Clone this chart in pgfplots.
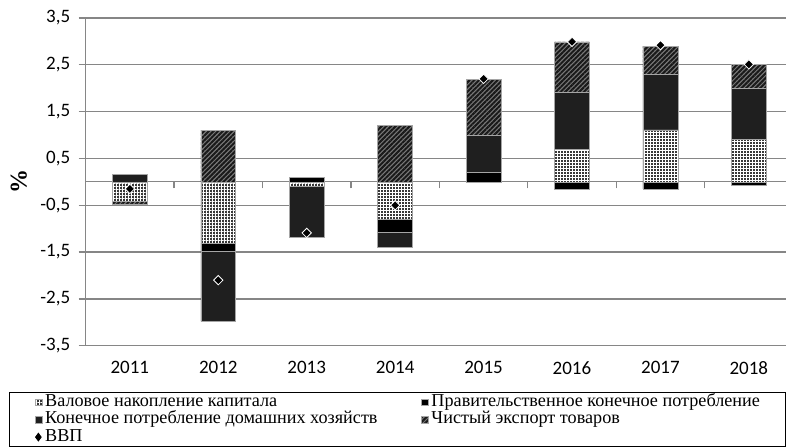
\documentclass[border=0pt]{standalone}
\usepackage{fontspec}
\setmainfont{Liberation Serif}
\newfontfamily\carlito{Carlito}
\usepackage{pgfplots}
\usepackage{pgfplotstable}
\pgfplotsset{compat=1.18}
\usetikzlibrary{patterns.meta}

\definecolor{gridgray}{RGB}{134,134,134}
\definecolor{barborder}{RGB}{165,165,165}

% positive parts of the stacks
\pgfplotstableread{
year cap gov hh nx
2011 0 0 0.16 0
2012 0 0 0 1.10
2013 0 0.10 0 0
2014 0 0 0 1.20
2015 0 0.20 0.80 1.19
2016 0.70 0 1.21 1.08
2017 1.11 0 1.19 0.60
2018 0.91 0 1.09 0.50
}\posdata
% negative parts of the stacks
\pgfplotstableread{
year cap gov hh nx
2011 -0.42 0 0 -0.07
2012 -1.31 -0.18 -1.49 0
2013 -0.09 0 -1.09 0
2014 -0.80 -0.28 -0.31 0
2015 0 0 0 0
2016 0 -0.15 0 0
2017 0 -0.15 0 0
2018 0 -0.08 0 0
}\negdata
\pgfplotstableread{
year gdp
2011 -0.15
2012 -2.10
2013 -1.09
2014 -0.50
2015 2.20
2016 2.99
2017 2.92
2018 2.51
}\gdpdata

\pgfplotsset{
  base/.style={scale only axis, width=701.3bp, height=328bp,
    xmin=2010.5, xmax=2018.424, ymin=-3.5, ymax=3.5},
  cap/.style={fill=black!78, draw=barborder, line width=0.6bp,
    postaction={pattern={Hatch[angle=0,distance=3bp,line width=0.9bp]}, pattern color=white}},
  gov/.style={fill=black, draw=barborder, line width=0.6bp},
  hh/.style={fill=black!88, draw=barborder, line width=0.6bp},
  nx/.style={fill=black!52, draw=barborder, line width=0.6bp,
    postaction={pattern={Lines[angle=45,distance=3.3bp,line width=2bp]}, pattern color=black!90}},
  barleg/.style={legend image code/.code={\path (0bp,0bp); \path[##1] (24bp,-3.4bp) rectangle (31bp,3.4bp);}},
  tickfont/.style={font=\carlito\fontsize{19bp}{20bp}\selectfont},
}

\begin{document}
\begin{tikzpicture}
% background: grid, y axis, year labels
\begin{axis}[base, name=ax,
  axis x line*=bottom, axis y line*=left,
  x axis line style={draw=none},
  xtick={2011,...,2018}, xtick style={draw=none},
  xticklabel style={tickfont, yshift=-5bp},
  ytick={-3.5,-2.5,...,3.5},
  ymajorgrids, grid style={gridgray, line width=1.2bp},
  y axis line style={gridgray, line width=1.2bp},
  ytick style={gridgray, line width=1.2bp},
  tick align=outside, major tick length=7bp,
  yticklabel style={tickfont, xshift=-5bp},
  /pgf/number format/.cd, use comma, 1000 sep={}, fixed, fixed zerofill, precision=1,
  assume math mode=true, /pgfplots/.cd,
  xticklabel={\pgfmathprintnumber[precision=0,fixed zerofill=false]{\tick}},
  ylabel={\%},
  ylabel style={font=\fontsize{24bp}{24bp}\selectfont\bfseries,
    at={(axis description cs:-0.0955,0.5)}, anchor=center},
]
\end{axis}
% zero line with category ticks, negative parts
\begin{axis}[base, axis x line*=middle, axis y line=none,
  x axis line style={gridgray, line width=1.2bp},
  xtick={2011.5,2012.5,...,2017.5}, xticklabels={},
  xtick style={gridgray, line width=1.2bp},
  tick align=outside, major tick length=6.5bp, ytick=\empty,
  ybar stacked, bar width=35bp]
\addplot[cap] table[x=year,y=cap]{\negdata};
\addplot[gov] table[x=year,y=gov]{\negdata};
\addplot[hh] table[x=year,y=hh]{\negdata};
\addplot[nx] table[x=year,y=nx]{\negdata};
\end{axis}
% positive parts
\begin{axis}[base, hide axis, ybar stacked, bar width=35bp]
\addplot[cap] table[x=year,y=cap]{\posdata};
\addplot[gov] table[x=year,y=gov]{\posdata};
\addplot[hh] table[x=year,y=hh]{\posdata};
\addplot[nx] table[x=year,y=nx]{\posdata};
\end{axis}
% GDP and legend
\begin{axis}[base, hide axis,
  legend columns=2, legend cell align=left,
  legend style={at={(axis description cs:0,0)}, anchor=north west,
    xshift=-76.7bp, yshift=-46.5bp, draw=black, line width=0.9bp, inner sep=1bp,
    font=\fontsize{18.2bp}{18bp}\selectfont, row sep=0bp, column sep=0bp,
    /tikz/every odd column/.append style={column sep=3bp},
    nodes={inner sep=0bp, text height=12.9bp, text depth=4.5bp}},
]
\addlegendimage{cap, barleg}
\addlegendentry{\makebox[352bp][l]{Валовое накопление капитала}}
\addlegendimage{gov, barleg}
\addlegendentry{\makebox[353bp][l]{Правительственное конечное потребление}}
\addlegendimage{hh, barleg}
\addlegendentry{\makebox[352bp][l]{Конечное потребление домашних хозяйств}}
\addlegendimage{nx, barleg}
\addlegendentry{\makebox[353bp][l]{Чистый экспорт товаров}}
\addplot[only marks, mark=square*, mark size=3.3bp,
  mark options={rotate=45, fill=black, draw=white, line width=0.8bp},
  legend image code/.code={\path (0bp,0bp); \path[fill=black] (27.5bp,3.8bp) -- (30.3bp,0bp) -- (27.5bp,-3.8bp) -- (24.7bp,0bp) -- cycle;}]
  table[x=year,y=gdp]{\gdpdata};
\addlegendentry{ВВП}
\end{axis}
\path (ax.south west) +(-85.7bp,-101bp);
\path (ax.north east) +(0bp,18bp);
\end{tikzpicture}
\end{document}
